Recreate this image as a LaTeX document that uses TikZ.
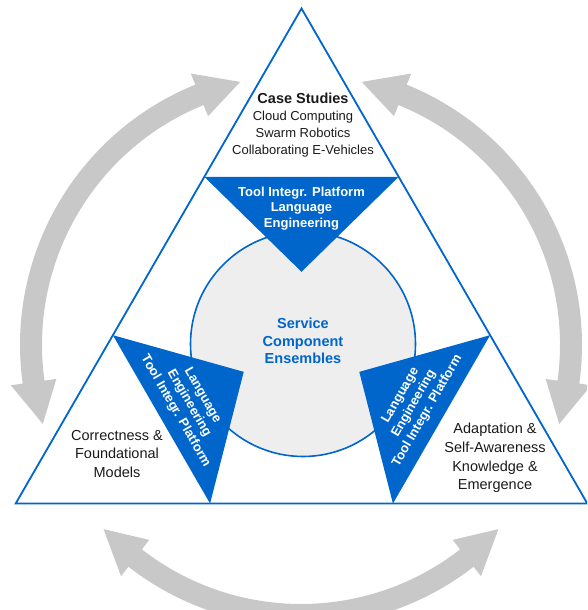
\documentclass[tikz,border=0pt]{standalone}
\usepackage{fontspec}
\setmainfont{Liberation Sans}
\usetikzlibrary{calc}
\definecolor{sceblue}{RGB}{0,102,204}
\definecolor{arrowgray}{RGB}{200,200,200}
\definecolor{discgray}{RGB}{238,238,238}
\definecolor{inktext}{RGB}{26,26,26}

\begin{document}
\begin{tikzpicture}[x=1pt,y=1pt,
  cyclearrow/.style={fill=arrowgray, draw=none},
  frame/.style={draw=sceblue, line width=1.8pt, line join=miter},
  disc/.style={draw=sceblue, line width=1.6pt, fill=discgray},
  wedge/.style={fill=sceblue, draw=none},
  wedgetext/.style={text=white, font=\fontsize{13}{15.5}\selectfont\bfseries,
    align=center, inner sep=0pt},
  cornertext/.style={text=inktext, font=\fontsize{14.5}{18.8}\selectfont,
    align=center, inner sep=0pt},
  casetext/.style={text=inktext, font=\fontsize{13}{16.8}\selectfont,
    align=center, inner sep=0pt},
  coretext/.style={text=sceblue, font=\fontsize{14.5}{17.3}\selectfont\bfseries,
    align=center, inner sep=0pt}
]
\useasboundingbox (0,0) rectangle (587,610);
\clip (0,0) rectangle (587,610);

% centre of the outer triangle and of the ring of arrows
\coordinate (O) at (301.5,271.5);
\coordinate (R) at (301,265);

% three curved double-headed arrows around the triangle
\foreach \rot in {0,120,240}{
  \begin{scope}[shift={(R)}, rotate=\rot]
    \fill[cyclearrow]
      (232.1:259) arc[start angle=232.1, end angle=307.9, radius=259]
      -- (307.9:247) -- (317:270) -- (307.9:293) -- (307.9:281)
      arc[start angle=307.9, end angle=232.1, radius=281]
      -- (232.1:293) -- (223:270) -- (232.1:247) -- cycle;
  \end{scope}
}

% outer triangle
\coordinate (A) at ($(O)+(90:330)$);
\coordinate (B) at ($(O)+(210:330)$);
\coordinate (C) at ($(O)+(330:330)$);
\draw[frame] (A) -- (B) -- (C) -- cycle;

% central disc
\node[disc, circle, minimum size=225pt, inner sep=0pt] (core) at (303,266) {};

% three blue wedges, one per corner
\foreach \rot in {0,120,240}{
  \begin{scope}[shift={(O)}, rotate=\rot]
    \fill[wedge] (-97.2,161.7) -- (97.2,161.7) -- (0,66.7) -- cycle;
  \end{scope}
}

% wedge labels
\node[wedgetext] (wtop) at ($(O)+(90:130)$)
  {Tool Integr. Platform\\Language\\Engineering};
\node[wedgetext, rotate=-60] (wleft) at ($(O)+(210:130)$)
  {Language\\Engineering\\Tool Integr. Platform};
\node[wedgetext, rotate=60] (wright) at ($(O)+(330:130)$)
  {Language\\Engineering\\Tool Integr. Platform};

% corner labels
\node[casetext] (cases) at (303,485)
  {{\fontsize{14.5}{16.8}\selectfont\bfseries Case Studies}\\Cloud Computing\\Swarm Robotics\\Collaborating E-Vehicles};
\node[cornertext] (correct) at (117,156)
  {Correctness \&\\Foundational\\Models};
\node[cornertext] (adapt) at (495,152)
  {Adaptation \&\\Self-Awareness\\Knowledge \&\\Emergence};

% centre label
\node[coretext] (sce) at (303,269) {Service\\Component\\Ensembles};
\end{tikzpicture}
\end{document}
